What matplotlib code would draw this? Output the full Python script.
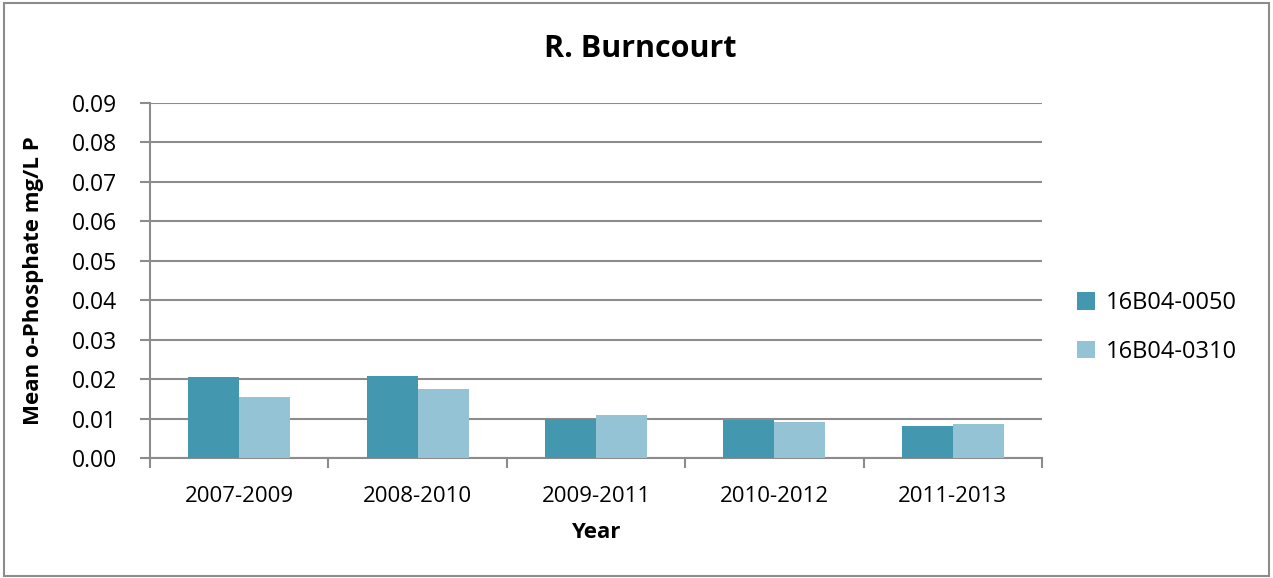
import matplotlib
matplotlib.use("Agg")
import matplotlib.pyplot as plt
import numpy as np
from matplotlib.patches import Rectangle

categories = ["2007-2009", "2008-2010", "2009-2011", "2010-2012", "2011-2013"]
series_names = ["16B04-0050", "16B04-0310"]
s0050 = [0.0205, 0.0207, 0.0100, 0.0096, 0.0082]
s0310 = [0.0155, 0.0174, 0.0110, 0.0091, 0.0085]
yticks = [0.00, 0.01, 0.02, 0.03, 0.04, 0.05, 0.06, 0.07, 0.08, 0.09]

colors = ["#4397AE", "#93C3D4"]
grid_c = "#8C8C8C"
font = ["Open Sans", "DejaVu Sans"]
plt.rcParams["font.family"] = font

fig = plt.figure(figsize=(12.73, 5.78), dpi=100)
ax = fig.add_axes([150/1273, 1-458/578, (1042-150)/1273, (458-103)/578])

x = np.arange(len(categories))
w = 1/3.5
ax.bar(x - w/2, s0050, w, color=colors[0], label=series_names[0], zorder=3)
ax.bar(x + w/2, s0310, w, color=colors[1], label=series_names[1], zorder=3)

ax.set_xlim(-0.5, len(categories)-0.5)
ax.set_ylim(0, 0.09)
ax.set_yticks(yticks)
ax.set_yticklabels([f"{v:.2f}" for v in yticks], fontsize=16.5)
ax.yaxis.grid(True, color=grid_c, linewidth=1.5, zorder=0)
ax.set_axisbelow(True)

ax.set_xticks(x)
ax.set_xticklabels(categories, fontsize=16)
ax.tick_params(axis="x", length=0, pad=20)
ax.set_xticks(np.arange(len(categories)+1) - 0.5, minor=True)
ax.tick_params(axis="x", which="minor", length=7, width=1.5, color=grid_c, direction="out")
ax.tick_params(axis="y", length=7, width=1.5, color=grid_c, direction="out", pad=17)

for side in ["top", "right"]:
    ax.spines[side].set_visible(False)
for side in ["left", "bottom"]:
    ax.spines[side].set_color(grid_c)
    ax.spines[side].set_linewidth(1.5)

ax.set_xlabel("Year", fontsize=16, fontweight="bold", labelpad=11)
ax.set_ylabel("Mean o-Phosphate mg/L P", fontsize=16, fontweight="bold", labelpad=20)
fig.text(640/1273, 1-49/578, "R. Burncourt", fontsize=22, fontweight="bold", ha="center", va="center")

leg = fig.legend(loc="upper left", bbox_to_anchor=(1056/1273, 1-270/578), frameon=False,
                 fontsize=17, handlelength=0.75, handleheight=0.75, labelspacing=1.05, handletextpad=0.45)

fig.patches.append(Rectangle((4/1273, 2/578), 1265/1273, 573/578, transform=fig.transFigure,
                             fill=False, edgecolor=grid_c, linewidth=1.5))

fig.savefig("out.png", dpi=100)
